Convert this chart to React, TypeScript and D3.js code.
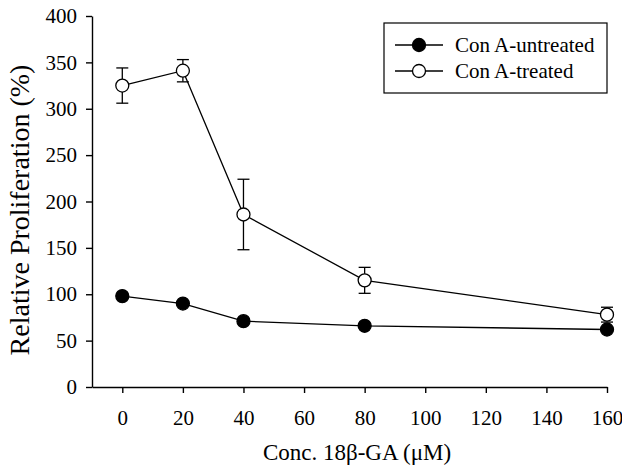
import React, { useEffect, useRef } from "react";
import * as d3 from "d3";

const concentrations = [0, 20, 40, 80, 160];
const untreated = [98, 90, 71, 66, 62];
const treated = [325, 341, 186, 115, 78];
const treatedErr = [19, 12, 38, 14, 8];
const xTicks = [0, 20, 40, 60, 80, 100, 120, 140, 160];
const yTicks = [0, 50, 100, 150, 200, 250, 300, 350, 400];

const App = () => {
  const ref = useRef<SVGSVGElement | null>(null);

  useEffect(() => {
    const svg = d3.select(ref.current);
    svg.selectAll("*").remove();
    const font = "'Liberation Serif', 'Times New Roman', serif";

    const x = d3.scaleLinear().domain([-10, 160]).range([92, 607]);
    const y = d3.scaleLinear().domain([0, 400]).range([387, 16]);

    // axes
    const xAxis = svg
      .append("g")
      .attr("transform", `translate(0,${y(0)})`)
      .call(d3.axisBottom(x).tickValues(xTicks).tickSize(6).tickPadding(17).tickSizeOuter(0));
    const yAxis = svg
      .append("g")
      .attr("transform", `translate(${x(-10)},0)`)
      .call(d3.axisLeft(y).tickValues(yTicks).tickSize(6).tickPadding(9).tickSizeOuter(0));

    [xAxis, yAxis].forEach((a) => {
      a.attr("font-family", font).attr("font-size", 21);
      a.selectAll("path, line").attr("stroke", "#000").attr("stroke-width", 1.4);
      a.selectAll("text").attr("fill", "#000");
    });

    svg
      .append("text")
      .attr("x", 357)
      .attr("y", 460)
      .attr("text-anchor", "middle")
      .attr("font-family", font)
      .attr("font-size", 23)
      .text("Conc. 18β-GA (μM)");

    svg
      .append("text")
      .attr("transform", `translate(29,210) rotate(-90)`)
      .attr("text-anchor", "middle")
      .attr("font-family", font)
      .attr("font-size", 28)
      .text("Relative Proliferation (%)");

    const line = d3
      .line<number>()
      .x((_, i) => x(concentrations[i]))
      .y((d) => y(d));

    // error bars for treated
    const eb = svg.append("g").attr("stroke", "#000").attr("stroke-width", 1.3);
    treated.forEach((v, i) => {
      const cx = x(concentrations[i]);
      const top = y(v + treatedErr[i]);
      const bot = y(v - treatedErr[i]);
      eb.append("line").attr("x1", cx).attr("x2", cx).attr("y1", top).attr("y2", bot);
      eb.append("line").attr("x1", cx - 6).attr("x2", cx + 6).attr("y1", top).attr("y2", top);
      eb.append("line").attr("x1", cx - 6).attr("x2", cx + 6).attr("y1", bot).attr("y2", bot);
    });

    const series = [
      { values: untreated, fill: "#000" },
      { values: treated, fill: "#fff" },
    ];

    series.forEach((s) => {
      svg
        .append("path")
        .datum(s.values)
        .attr("d", line)
        .attr("fill", "none")
        .attr("stroke", "#000")
        .attr("stroke-width", 1.3);
      svg
        .append("g")
        .selectAll("circle")
        .data(s.values)
        .enter()
        .append("circle")
        .attr("cx", (_, i) => x(concentrations[i]))
        .attr("cy", (d) => y(d))
        .attr("r", 6.5)
        .attr("fill", s.fill)
        .attr("stroke", "#000")
        .attr("stroke-width", 1.3);
    });

    // legend
    const lg = svg.append("g");
    lg.append("rect")
      .attr("x", 384)
      .attr("y", 23)
      .attr("width", 223)
      .attr("height", 70)
      .attr("fill", "#fff")
      .attr("stroke", "#000")
      .attr("stroke-width", 1.2);
    const labels = ["Con A-untreated", "Con A-treated"];
    labels.forEach((lab, i) => {
      const ly = 45 + i * 26;
      lg.append("line")
        .attr("x1", 395)
        .attr("x2", 443)
        .attr("y1", ly)
        .attr("y2", ly)
        .attr("stroke", "#000")
        .attr("stroke-width", 1.3);
      lg.append("circle")
        .attr("cx", 419)
        .attr("cy", ly)
        .attr("r", 6.5)
        .attr("fill", series[i].fill)
        .attr("stroke", "#000")
        .attr("stroke-width", 1.3);
      lg.append("text")
        .attr("x", 455)
        .attr("y", ly)
        .attr("dy", "0.35em")
        .attr("font-family", font)
        .attr("font-size", 21)
        .text(lab);
    });
  }, []);

  return <svg ref={ref} width={622} height={470} style={{ position: "absolute", left: 0, top: 0 }} />;
};

export default App;
